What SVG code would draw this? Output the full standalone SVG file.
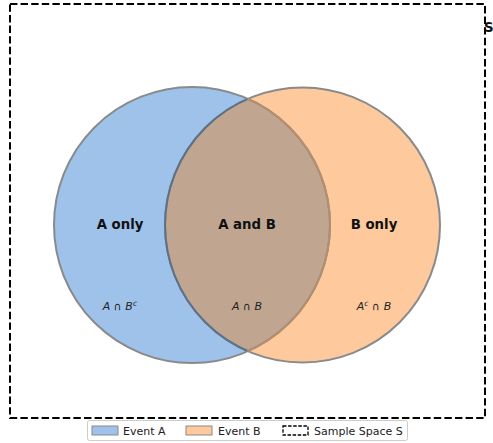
<svg xmlns="http://www.w3.org/2000/svg" width="493" height="443" viewBox="0 0 493 443">
<style>
.lbl{font-family:"DejaVu Sans",sans-serif;font-size:13.3px;font-weight:bold;fill:#111;text-anchor:middle}
.math{font-family:"DejaVu Sans",sans-serif;font-size:11px;font-style:italic;fill:#222;text-anchor:middle}
.leg{font-family:"DejaVu Sans",sans-serif;font-size:11px;fill:#222}
.edge{fill:none;stroke-width:2}
</style>
<defs>
<clipPath id="clipA"><circle cx="192" cy="225" r="138"/></clipPath>
<clipPath id="clipB"><circle cx="302.5" cy="225" r="137.5"/></clipPath>
</defs>
<rect width="493" height="443" fill="#fff"/>
<g id="sample-space">
<rect x="10" y="4" width="475" height="414" fill="none" stroke="#000" stroke-width="2" stroke-dasharray="7.4,3.2"/>
<text x="484" y="32" font-family="DejaVu Sans, sans-serif" font-size="13.3" font-weight="bold" fill="#111">S</text>
</g>
<g id="event-a">
<circle cx="192" cy="225" r="138" fill="#9ec2ea"/>
</g>
<g id="event-b">
<circle cx="302.5" cy="225" r="137.5" fill="#fec99c"/>
</g>
<g id="a-and-b">
<circle cx="302.5" cy="225" r="137.5" fill="#c0a691" clip-path="url(#clipA)"/>
</g>
<g id="edges">
<circle class="edge" cx="192" cy="225" r="138" stroke="#8a8a8a"/>
<circle class="edge" cx="302.5" cy="225" r="137.5" stroke="#8a8a8a"/>
<circle class="edge" cx="302.5" cy="225" r="137.5" stroke="#5d7189" clip-path="url(#clipA)"/>
<circle class="edge" cx="192" cy="225" r="138" stroke="#b38e70" clip-path="url(#clipB)"/>
</g>
<g id="labels">
<text class="lbl" x="120" y="229">A only</text>
<text class="lbl" x="247" y="229">A and B</text>
<text class="lbl" x="374" y="229">B only</text>
<text class="math" x="120" y="310">A ∩ B<tspan dy="-4" font-size="7.8">c</tspan></text>
<text class="math" x="247" y="310">A ∩ B</text>
<text class="math" x="374" y="310">A<tspan dy="-4" font-size="7.8">c</tspan><tspan dy="4"> ∩ B</tspan></text>
</g>
<g id="legend">
<rect x="87.5" y="420.5" width="320" height="20" rx="2" fill="#fff" fill-opacity="0.8" stroke="#ccc"/>
<rect x="92" y="426" width="26" height="9" fill="#9ec2ea" stroke="#8a8a8a"/>
<text class="leg" x="123" y="434.5">Event A</text>
<rect x="186" y="426" width="26" height="9" fill="#fec99c" stroke="#8a8a8a"/>
<text class="leg" x="218" y="434.5">Event B</text>
<rect x="283" y="426" width="25" height="9" fill="none" stroke="#000" stroke-width="1.3" stroke-dasharray="3.5,1.6"/>
<text class="leg" x="314" y="434.5">Sample Space S</text>
</g>
</svg>
